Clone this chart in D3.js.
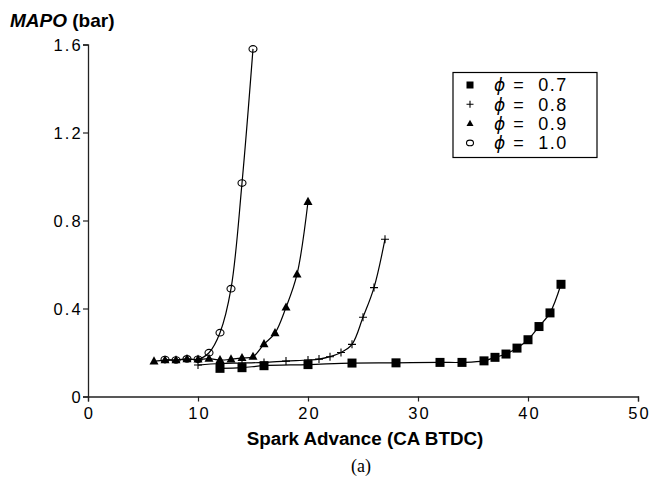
<!DOCTYPE html>
<html><head><meta charset="utf-8">
<script src="https://cdn.jsdelivr.net/npm/d3@7"></script>
<style>body{margin:0;background:#fff}svg{display:block}text{fill:#000}</style>
</head><body>
<script>
// ---- data ----
const xTicks = [0, 10, 20, 30, 40, 50];
const yTicks = [0, 0.4, 0.8, 1.2, 1.6];
const yTickLabels = ["0", "0.4", "0.8", "1.2", "1.6"];
const seriesNames = ["ϕ = 0.7", "ϕ = 0.8", "ϕ = 0.9", "ϕ = 1.0"];

const x07 = [12, 14, 16, 20, 24, 28, 32, 34, 36, 37, 38, 39, 40, 41, 42, 43];
const y07 = [0.128, 0.131, 0.140, 0.145, 0.152, 0.153, 0.155, 0.155, 0.162, 0.178, 0.193, 0.220, 0.258, 0.318, 0.380, 0.510];

const x08 = [10, 12, 14, 16, 18, 20, 21, 22, 23, 24, 25, 26, 27];
const y08 = [0.143, 0.150, 0.152, 0.155, 0.161, 0.166, 0.170, 0.181, 0.200, 0.237, 0.360, 0.495, 0.715];

const x09 = [6, 7, 8, 9, 10, 11, 12, 13, 14, 15, 16, 17, 18, 19, 20];
const y09 = [0.160, 0.165, 0.165, 0.170, 0.168, 0.172, 0.166, 0.169, 0.175, 0.181, 0.238, 0.288, 0.405, 0.555, 0.885];

const x10 = [7, 8, 9, 10, 11, 12, 13, 14, 15];
const y10 = [0.168, 0.166, 0.171, 0.169, 0.199, 0.290, 0.490, 0.970, 1.580];

// ---- chart ----
const W = 668, H = 490;
const svg = d3.select("body").append("svg").attr("width", W).attr("height", H);
const xs = d3.scaleLinear().domain([0, 50]).range([88, 638]);
const ys = d3.scaleLinear().domain([0, 1.6]).range([396.5, 44.5]);
const font = "'Liberation Sans', Arial, sans-serif";

// axes
const gx = svg.append("g").attr("transform", `translate(0,${ys(0)})`)
  .call(d3.axisBottom(xs).tickValues(xTicks).tickSize(5).tickFormat(d => d));
const gy = svg.append("g").attr("transform", `translate(${xs(0)},0)`)
  .call(d3.axisLeft(ys).tickValues(yTicks).tickSize(5).tickFormat((d, i) => yTickLabels[i]));
[gx, gy].forEach(g => {
  g.select(".domain").attr("stroke", "#222").attr("stroke-width", 1.3);
  g.selectAll(".tick line").attr("stroke", "#222").attr("stroke-width", 1.2);
  g.selectAll(".tick text").attr("fill", "#000").style("font-family", font)
    .style("font-size", "16.5px").style("letter-spacing", "2.2px");
});
gx.selectAll(".tick text").attr("dy", "0.9em").attr("dx", "1px");
gy.selectAll(".tick text").attr("x", -5).attr("dy", "0.35em");

// series
const data = [
  {xs: x07, ys: y07, m: "square"},
  {xs: x08, ys: y08, m: "plus"},
  {xs: x09, ys: y09, m: "triangle"},
  {xs: x10, ys: y10, m: "circle"}
];
const line = d3.line().x(d => xs(d[0])).y(d => ys(d[1])).curve(d3.curveCatmullRom.alpha(0.5));

function marker(g, type, cx, cy, s) {
  if (type === "square") {
    g.append("rect").attr("x", cx - s/2).attr("y", cy - s/2).attr("width", s).attr("height", s).attr("fill", "#000");
  } else if (type === "plus") {
    g.append("path").attr("d", `M${cx - s/2},${cy}H${cx + s/2}M${cx},${cy - s/2}V${cy + s/2}`)
      .attr("stroke", "#000").attr("stroke-width", 1.1).attr("fill", "none");
  } else if (type === "triangle") {
    const h = s * 0.9;
    g.append("path").attr("d", `M${cx},${cy - h*0.62}L${cx + s/2},${cy + h*0.38}L${cx - s/2},${cy + h*0.38}Z`).attr("fill", "#000");
  } else {
    g.append("ellipse").attr("cx", cx).attr("cy", cy).attr("rx", s/2).attr("ry", s/2 - 0.7)
      .attr("fill", "none").attr("stroke", "#000").attr("stroke-width", 1.1);
  }
}

data.forEach(s => {
  const pts = s.xs.map((v, i) => [v, s.ys[i]]);
  svg.append("path").attr("d", line(pts)).attr("fill", "none").attr("stroke", "#000").attr("stroke-width", 1.2);
});
data.forEach(s => {
  const g = svg.append("g");
  s.xs.forEach((v, i) => marker(g, s.m, xs(v), ys(s.ys[i]), s.m === "plus" ? 8 : (s.m === "circle" ? 8 : 9)));
});

// legend
const lg = svg.append("g");
lg.append("rect").attr("x", 453).attr("y", 72.5).attr("width", 144).attr("height", 85)
  .attr("fill", "#fff").attr("stroke", "#000").attr("stroke-width", 1.2);
data.forEach((s, i) => {
  const cy = 85 + i * 19.3;
  marker(lg, s.m, 470, cy, 7);
  const t = lg.append("text").attr("x", 494).attr("y", cy).attr("dy", "0.36em")
    .attr("fill", "#000")
    .style("font-family", font).style("font-size", "18px").style("letter-spacing", "1.5px")
    .style("white-space", "pre");
  t.append("tspan").text(seriesNames[i].slice(0, 1)).style("font-style", "italic").attr("fill", "#000")
    .style("font-family", "'DejaVu Sans', sans-serif").style("font-size", "17px");
  t.append("tspan").text(seriesNames[i].slice(1).replace("= ", "=  ")).attr("fill", "#000");
});

// titles
const yt = svg.append("text").attr("x", 10).attr("y", 27).style("font-family", font)
  .style("font-size", "19px").style("font-weight", "bold");
yt.append("tspan").text("MAPO").style("font-style", "italic");
yt.append("tspan").text(" (bar)");

svg.append("text").attr("x", 365).attr("y", 445).attr("text-anchor", "middle")
  .style("font-family", font).style("font-size", "18.8px").style("font-weight", "bold")
  .text("Spark Advance (CA BTDC)");
svg.append("text").attr("x", 361).attr("y", 472).attr("text-anchor", "middle")
  .style("font-family", "'Liberation Serif', 'Times New Roman', serif").style("font-size", "18px")
  .text("(a)");
</script>
</body></html>
